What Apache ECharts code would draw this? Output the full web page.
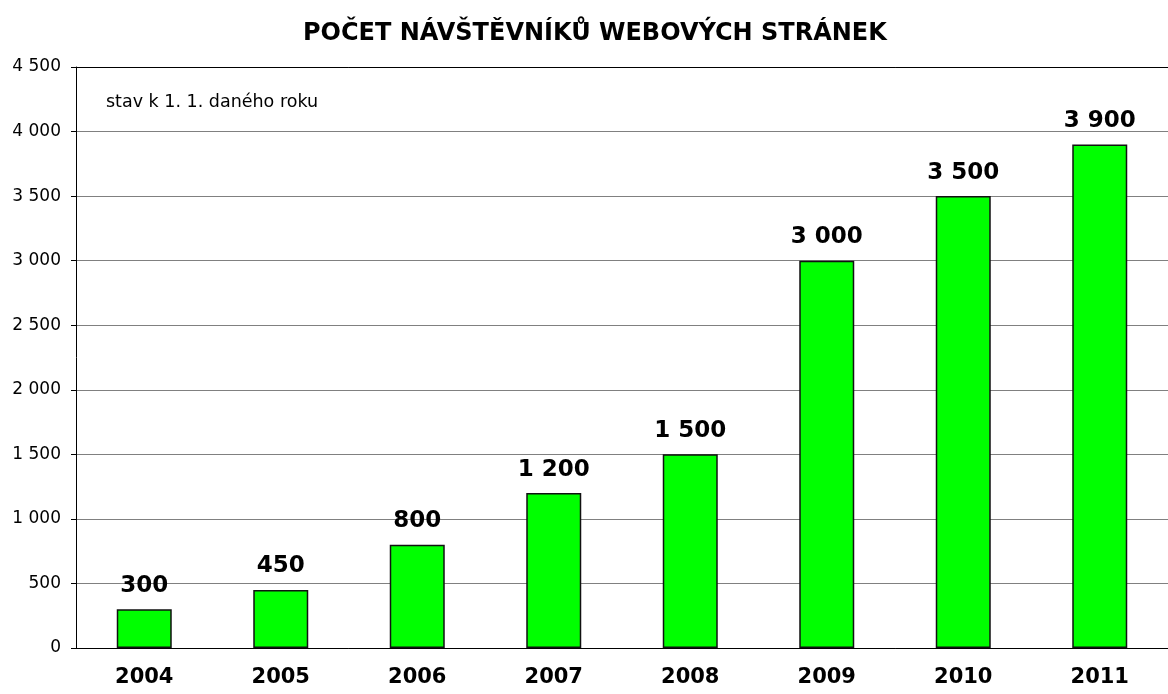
<!DOCTYPE html>
<html>
<head>
<meta charset="utf-8">
<script src="https://cdn.jsdelivr.net/npm/echarts@6/dist/echarts.min.js"></script>
<style>
  html, body { margin: 0; padding: 0; background: #fff; }
  #main { width: 1168px; height: 694px; }
</style>
</head>
<body>
<div id="main"></div>
<script>
const titleText = 'POČET NÁVŠTĚVNÍKŮ WEBOVÝCH STRÁNEK';
const noteText = 'stav k 1. 1. daného roku';
const years = ['2004', '2005', '2006', '2007', '2008', '2009', '2010', '2011'];
const visitors = [300, 450, 800, 1200, 1500, 3000, 3500, 3900];

// mezera jako oddělovač tisíců
function fmt(v) {
  return String(v).replace(/\B(?=(\d{3})+(?!\d))/g, ' ');
}

var chart = echarts.init(document.getElementById('main'));
chart.setOption({
  animation: false,
  textStyle: { fontFamily: 'DejaVu Sans, sans-serif' },
  title: {
    text: titleText, left: 298, top: 17,
    textStyle: { fontSize: 24, fontWeight: 'bold', color: '#000', fontFamily: 'DejaVu Sans' }
  },
  graphic: [{
    type: 'text', left: 106, top: 93,
    style: { text: noteText, fontSize: 17.5, fill: '#000', fontFamily: 'DejaVu Sans' }
  }],
  grid: { left: 76, right: -9, top: 67, bottom: 46 },
  xAxis: [{
    type: 'category',
    data: years,
    axisLine: { lineStyle: { color: '#000', width: 1 } },
    axisTick: { length: 7, lineStyle: { color: '#000' } },
    axisLabel: { fontSize: 21, fontWeight: 'bold', color: '#000', margin: 19 }
  }, {
    type: 'category',
    position: 'top',
    data: years,
    axisLine: { lineStyle: { color: '#000', width: 1 } },
    axisTick: { show: false },
    axisLabel: { show: false }
  }],
  yAxis: {
    type: 'value',
    min: 0, max: 4500, interval: 500,
    axisLine: { show: true, lineStyle: { color: '#000' } },
    axisTick: { show: true, length: 5, lineStyle: { color: '#000' } },
    axisLabel: { fontSize: 17, color: '#000', margin: 15, formatter: fmt },
    splitLine: { lineStyle: { color: '#808080', width: 1 } }
  },
  series: [{
    type: 'bar',
    data: visitors,
    barWidth: 55,
    itemStyle: { color: '#00ff00', borderColor: '#111', borderWidth: 1.5 },
    label: {
      show: true, position: 'top', distance: 12,
      fontSize: 23, fontWeight: 'bold', color: '#000',
      fontFamily: 'DejaVu Sans',
      formatter: function (p) { return fmt(p.value); }
    }
  }]
});
</script>
</body>
</html>
